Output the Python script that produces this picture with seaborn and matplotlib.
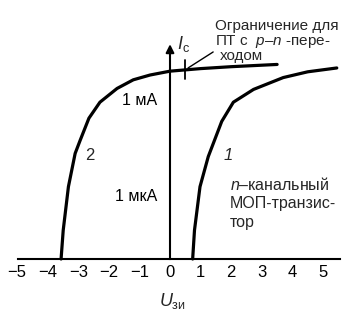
import numpy as np
import pandas as pd
import matplotlib
matplotlib.use("Agg")
import matplotlib.pyplot as plt
import seaborn as sns

# Curve 1: n-channel MOSFET (x = U_зи, y = decades of I_c above the axis)
curve1_x = [0.74, 0.80, 0.98, 1.25, 1.69, 2.07, 2.73, 3.70, 4.50, 5.45]
curve1_y = [0.0, 0.9, 2.26, 3.2, 4.3, 4.9, 5.3, 5.67, 5.85, 5.97]
# Curve 2: JFET
curve2_x = [-3.56, -3.49, -3.32, -3.10, -2.94, -2.65, -2.29, -1.73, -1.20, -0.65, 0.0, 1.0, 2.0, 3.5]
curve2_y = [0.0, 0.9, 2.26, 3.3, 3.7, 4.4, 4.9, 5.33, 5.6, 5.75, 5.87, 5.95, 6.01, 6.08]

x_ticks = [-5, -4, -3, -2, -1, 0, 1, 2, 3, 4, 5]
y_ticks = [1, 2, 3, 4, 5]
y_tick_labels = ["", "1 мкА", "", "", "1 мА"]

sns.set_theme(style="white")
plt.rcParams["font.family"] = ["Liberation Sans", "DejaVu Sans"]
plt.rcParams["mathtext.fontset"] = "custom"
plt.rcParams["mathtext.rm"] = "Liberation Sans"
plt.rcParams["mathtext.it"] = "Liberation Sans:italic"
plt.rcParams["mathtext.bf"] = "Liberation Sans:bold"

FS = 11.5

fig = plt.figure(figsize=(3.5, 3.13), dpi=100)
ax = fig.add_axes([0, 0, 1, 1])
ax.set_facecolor("white")

df = pd.concat([
    pd.DataFrame({"U": curve1_x, "I": curve1_y, "c": "1"}),
    pd.DataFrame({"U": curve2_x, "I": curve2_y, "c": "2"}),
])
sns.lineplot(data=df, x="U", y="I", units="c", estimator=None, sort=False,
             color="black", linewidth=2.3, ax=ax, legend=False)

ax.set_xlim(-5.556, 5.882)
ax.set_ylim(-1.6875, 8.094)

for s in ["top", "right"]:
    ax.spines[s].set_visible(False)
ax.spines["bottom"].set_position(("data", 0))
ax.spines["left"].set_position(("data", 0))
ax.spines["bottom"].set_bounds(-4.97, 5.56)
ax.spines["left"].set_bounds(0, 6.5)
for s in ["bottom", "left"]:
    ax.spines[s].set_linewidth(1.5)
    ax.spines[s].set_color("black")

ax.set_xticks(x_ticks)
ax.set_xticklabels([("\u2212" + str(-v)) if v < 0 else str(v) for v in x_ticks])
ax.set_yticks(y_ticks)
ax.set_yticklabels(y_tick_labels)
ax.tick_params(axis="x", direction="in", length=6.5, width=1.3, pad=4,
               labelsize=12, colors="black")
ax.tick_params(axis="y", direction="in", length=9, width=1.3, pad=9,
               labelsize=FS, colors="black")
ax.set_xlabel("")
ax.set_ylabel("")

# arrow head on the y axis
ax.annotate("", xy=(0, 6.8), xytext=(0, 6.3),
            arrowprops=dict(arrowstyle="-|>", color="black", lw=1.5,
                            mutation_scale=12))

# axis labels
ax.text(0.45, 6.72, r"$I_{\mathrm{c}}$", fontsize=13, ha="center", va="center")
ax.text(0.07, -1.3, r"$U_{\mathrm{зи}}$", fontsize=13, ha="center", va="center")

# curve labels
ax.text(-2.61, 3.25, "2", fontsize=12, ha="center", va="center")
ax.text(1.9, 3.25, "1", fontsize=12, style="italic", ha="center", va="center")

# JFET limit mark and leader
ax.plot([0.5, 0.5], [5.62, 6.22], color="black", lw=1.3)
ax.plot([0.59, 1.41], [5.97, 6.47], color="black", lw=1.0)

ax.text(1.47, 7.16, "Ограничение для", fontsize=11, ha="left", va="baseline")
ax.text(1.47, 6.69, r"ПТ с  $p$–$n$ -пере-", fontsize=11, ha="left", va="baseline")
ax.text(1.63, 6.22, "ходом", fontsize=11, ha="left", va="baseline")

ax.text(1.96, 2.16, r"$n$–канальный", fontsize=FS, ha="left", va="baseline")
ax.text(1.96, 1.58, "МОП-транзис-", fontsize=FS, ha="left", va="baseline")
ax.text(1.96, 1.0, "тор", fontsize=FS, ha="left", va="baseline")

fig.savefig("out.png", dpi=100)
